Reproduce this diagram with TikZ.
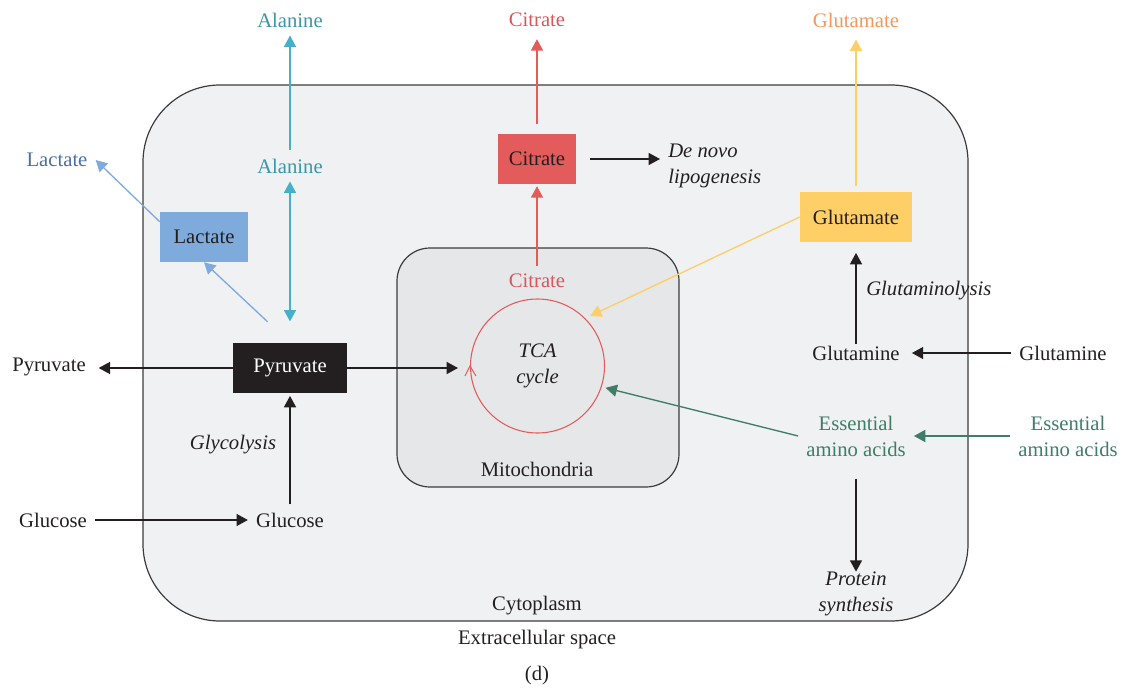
\documentclass[tikz,border=0pt]{standalone}
\usepackage{fontspec}
\setmainfont{Liberation Serif}
\usetikzlibrary{arrows.meta}
\definecolor{inkblack}{RGB}{35,31,32}
\definecolor{cellfill}{RGB}{240,241,243}
\definecolor{mitofill}{RGB}{230,231,233}
\definecolor{wallgray}{RGB}{60,60,62}
\definecolor{alateal}{RGB}{69,176,200}
\definecolor{alatext}{RGB}{58,150,168}
\definecolor{lacblue}{RGB}{127,171,220}
\definecolor{lactext}{RGB}{74,111,165}
\definecolor{citred}{RGB}{227,91,90}
\definecolor{cittext}{RGB}{216,88,90}
\definecolor{gluyellow}{RGB}{254,206,103}
\definecolor{glutext}{RGB}{244,151,90}
\definecolor{eaagreen}{RGB}{63,125,102}
\tikzset{
  txt/.style={font=\fontsize{15.5}{19.5}\selectfont, inner sep=6pt, text=inkblack},
  itxt/.style={txt, font=\fontsize{15.5}{19.5}\selectfont\itshape},
  metbox/.style={txt, minimum height=37.5pt, inner sep=2pt},
  arr/.style={line width=1pt, inkblack, -{Triangle[length=8.5pt,width=9pt]}},
}
\begin{document}
\begin{tikzpicture}[x=0.75pt,y=0.75pt,yscale=-1,xscale=1]
\useasboundingbox (0,0) rectangle (1123,688);
%Shape: Cell
\draw [wallgray, line width=0.9pt, fill=cellfill, rounded corners=57.75pt] (143,85) rectangle (968,621);
%Shape: Mitochondria
\draw [wallgray, line width=0.9pt, fill=mitofill, rounded corners=24.75pt] (397,248) rectangle (679,487);
% TCA cycle
\node (tca) at (537.5,366) [circle, draw=citred, line width=0.8pt, minimum size=100.5pt, inner sep=0pt, itxt, align=center] {TCA\\cycle};
\draw [citred, line width=0.8pt] ([shift={(-5,10)}]tca.west) -- (tca.west) -- ([shift={(6,10)}]tca.west);
% Box Nodes
\node (lacbox) at (204,237) [metbox, fill=lacblue, minimum width=66pt] {Lactate};
\node (citbox) at (537,159) [metbox, fill=citred, minimum width=58.5pt] {Citrate};
\node (glubox) at (856,217) [metbox, fill=gluyellow, minimum width=84pt] {Glutamate};
\node (pyrbox) at (290,368) [metbox, fill=inkblack, text=white, minimum width=85pt] {Pyruvate};
% Text Node
\node (alaout) at (290,20) [txt, text=alatext] {Alanine};
\node (alain) at (290,166) [txt, text=alatext] {Alanine};
\node (lacout) at (57,160) [txt, text=lactext] {Lactate};
\node (citout) at (537,20) [txt, text=cittext] {Citrate};
\node (citin) at (537,281) [txt, text=cittext] {Citrate};
\node (gluout) at (856,20) [txt, text=glutext] {Glutamate};
\node (denovo) at (660,166) [itxt, anchor=west, align=left] {De novo\\lipogenesis};
\node (glutin) at (856,353) [txt] {Glutamine};
\node (glutout) at (1063,353) [txt] {Glutamine};
\node (glutlysis) at (858,291) [itxt, anchor=west] {Glutaminolysis};
\node (eaain) at (856,436) [txt, text=eaagreen, align=center] {Essential\\amino acids};
\node (eaaout) at (1068,436) [txt, text=eaagreen, align=center] {Essential\\amino acids};
\node (protein) at (856,594) [itxt, align=center] {Protein\\synthesis};
\node (pyrout) at (49,367) [txt] {Pyruvate};
\node (glycol) at (233,445) [itxt] {Glycolysis};
\node (glcin) at (290,520) [txt] {Glucose};
\node (glcout) at (53,520) [txt] {Glucose};
\node (mito) at (537,469) [txt] {Mitochondria};
\node (cyto) at (537,606) [txt] {Cytoplasm};
\node (extra) at (537,640) [txt] {Extracellular space};
\node (caption) at (537,676) [txt] {(d)};
%Straight Lines
\draw [arr, alateal] (alain) -- (alaout);
\draw [arr, alateal, {Triangle[length=8.5pt,width=9pt]}-{Triangle[length=8.5pt,width=9pt]}, shorten <=16pt] (pyrbox.north) -- (alain.south);
\draw [arr, lacblue, shorten <=23pt] (pyrbox.north) -- (lacbox.south);
\draw [arr, lacblue] (lacbox.161) -- (lacout.east);
\draw [arr, citred, shorten >=1.5pt] (citin.north) -- (citbox.south);
\draw [arr, citred, shorten <=7pt, shorten >=3pt] (citbox.north) -- (citout.south);
\draw [arr, shorten <=10.5pt] (citbox.east) -- (citbox.east -| denovo.west);
\draw [arr, gluyellow, shorten <=4.5pt, shorten >=3pt] (glubox.north) -- (gluout.south);
\draw [arr, gluyellow, shorten >=4pt] (glubox.west) -- (tca.45);
\draw [arr, shorten <=-5pt, shorten >=8pt] (glutin.north) -- (glubox.south);
\draw [arr, shorten >=3pt] (glutout.west) -- (glutin.east);
\draw [arr, eaagreen] (eaaout.west) -- (eaain.east);
\draw [arr, eaagreen, shorten >=3pt] (eaain.west) -- (tca.-18);
\draw [arr, shorten <=10.5pt, shorten >=-6pt] (eaain.south) -- (protein.north);
\draw [arr, shorten >=3.5pt] (pyrbox.west) -- (pyrbox.west -| pyrout.east);
\draw [arr, shorten >=9pt] (pyrbox.east) -- (tca.west |- pyrbox.east);
\draw [arr, shorten >=2pt] (glcin.north) -- (pyrbox.south);
\draw [arr] (glcout.east) -- (glcin.west);
\end{tikzpicture}
\end{document}
